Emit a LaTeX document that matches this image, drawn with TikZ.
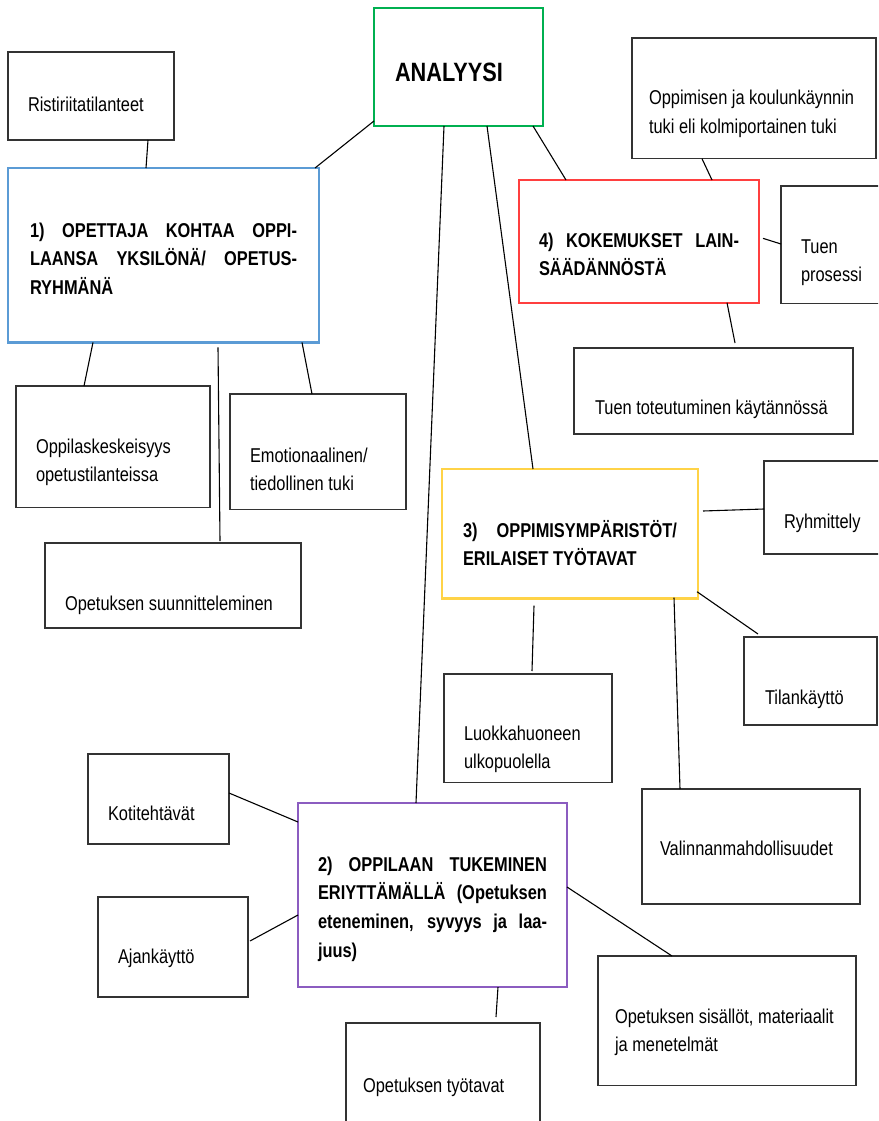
\documentclass[tikz,border=0pt]{standalone}
\usepackage{fontspec}
\setmainfont{Liberation Sans}[FakeStretch=0.82]
\usepackage{tikz}
\definecolor{anaInk}{HTML}{333333}
\definecolor{anaGreen}{HTML}{00B050}
\definecolor{anaBlue}{HTML}{5B9BD5}
\definecolor{anaRed}{HTML}{FF3F3F}
\definecolor{anaGold}{HTML}{FFD347}
\definecolor{anaPurple}{HTML}{8B5CC0}
\tikzset{
  anaLeaf/.style={draw=anaInk,line width=1.4pt},
  anaMain/.style={line width=2.6pt,font=\fontsize{20}{28.7}\selectfont\bfseries,align=justify},
  anaEdge/.style={draw=black,line width=1.1pt}
}

\begin{document}
\begin{tikzpicture}[
  x=1pt,y=-1pt,
  box/.style={rectangle,anchor=north west,inner ysep=0pt,outer sep=0pt,
              align=flush left,font=\fontsize{20}{28.7}\selectfont,text=black},
  pane/.style n args={5}{minimum width=#1pt,inner xsep=#2pt,text width=#3pt,
              execute at begin node={\noindent\vrule width0pt height#4pt depth0pt},
              execute at end node={\vrule width0pt height0pt depth#5pt}}]
\useasboundingbox (0,0) rectangle (878,1121);
\clip (0,0) rectangle (878,1121);
\fill[white] (0,0) rectangle (878,1121);
% centre and the four themes
\node[box,pane={169}{21}{127}{74}{44},draw=anaGreen,line width=2.8pt,
      font=\fontsize{26.5}{30}\selectfont\bfseries] (A) at (374,8) {ANALYYSI};
\node[box,anaMain,pane={311}{22}{267}{69}{48},draw=anaBlue] (P1) at (8,168)
  {1) OPETTAJA KOHTAA OPPI-\break LAANSA YKSILÖNÄ/ OPETUS-\break RYHMÄNÄ};
\node[box,anaMain,pane={269}{20}{229}{68}{30},draw=anaPurple,line width=2pt] (P2) at (298,803)
  {2) OPPILAAN TUKEMINEN\break ERIYTTÄMÄLLÄ (Opetuksen\break eteneminen, syvyys ja laa-\break juus)};
\node[box,anaMain,pane={256}{21}{214}{68}{33},draw=anaGold] (P3) at (442,469)
  {3) OPPIMISYMPÄRISTÖT/\break ERILAISET TYÖTAVAT};
\node[box,anaMain,pane={240}{20}{200}{67}{27},draw=anaRed,line width=2pt] (P4) at (519,180)
  {4) KOKEMUKSET LAIN-\break SÄÄDÄNNÖSTÄ};
% leaves
\node[box,anaLeaf,pane={166}{20}{126}{60}{28}] (Ri) at (8,52) {Ristiriitatilanteet};
\node[box,anaLeaf,pane={194}{20}{154}{67}{26}] (Ok) at (16,386) {Oppilaskeskeisyys\\opetustilanteissa};
\node[box,anaLeaf,pane={176}{20}{136}{68}{19}] (Em) at (230,394) {Emotionaalinen/\\tiedollinen tuki};
\node[box,anaLeaf,pane={256}{20}{216}{67}{18}] (Os) at (45,543) {Opetuksen suunnitteleminen};
\node[box,anaLeaf,pane={244}{17}{210}{67}{25}] (Ol) at (632,38) {Oppimisen ja koulunkäynnin\\tuki eli kolmiportainen tuki};
\node[box,anaLeaf,pane={109}{20}{69}{67}{22}] (Tp) at (781,186) {Tuen\\prosessi};
\node[box,anaLeaf,pane={279}{21}{237}{66}{20}] (Tt) at (574,348) {Tuen toteutuminen käytännössä};
\node[box,anaLeaf,pane={126}{20}{86}{67}{26}] (Ry) at (764,461) {Ryhmittely};
\node[box,anaLeaf,pane={133}{21}{91}{67}{21}] (Ti) at (744,637) {Tilankäyttö};
\node[box,anaLeaf,pane={168}{20}{128}{66}{14}] (Lu) at (444,674) {Luokkahuoneen\\ulkopuolella};
\node[box,anaLeaf,pane={218}{18}{182}{66}{49}] (Va) at (642,789) {Valinnanmahdollisuudet};
\node[box,anaLeaf,pane={141}{20}{101}{66}{24}] (Ko) at (88,754) {Kotitehtävät};
\node[box,anaLeaf,pane={150}{20}{110}{66}{34}] (Aj) at (98,897) {Ajankäyttö};
\node[box,anaLeaf,pane={258}{17}{224}{67}{34}] (Ss) at (598,956) {Opetuksen sisällöt, materiaalit\\ja menetelmät};
\node[box,anaLeaf,pane={194}{17}{160}{69}{50}] (Ot) at (346,1023) {Opetuksen työtavat};
% connectors
\draw[anaEdge] ([yshift=5pt]A.south west) -- ([xshift=-4pt]P1.north east);
\draw[anaEdge] ([xshift=70pt]A.south west) -- ([xshift=118pt]P2.north west);
\draw[anaEdge] ([xshift=113pt]A.south west) -- ([xshift=91pt]P3.north west);
\draw[anaEdge] ([xshift=-10pt]A.south east) -- ([xshift=47pt]P4.north west);
\draw[anaEdge] ([xshift=140pt]Ri.south west) -- ([xshift=138pt]P1.north west);
\draw[anaEdge] ([xshift=85pt]P1.south west) -- ([xshift=68pt]Ok.north west);
\draw[anaEdge] ([xshift=294pt]P1.south west) -- ([xshift=82pt]Em.north west);
\draw[anaEdge] ([xshift=210pt,yshift=-5pt]P1.south west) -- ([xshift=175pt,yshift=2pt]Os.north west);
\draw[anaEdge] ([xshift=70pt]Ol.south west) -- ([xshift=193pt]P4.north west);
\draw[anaEdge] ([xshift=4pt,yshift=3pt]P4.east) -- ([yshift=-58pt]Tp.north west);
\draw[anaEdge] ([xshift=208pt]P4.south west) -- ([xshift=161pt,yshift=5pt]Tt.north west);
\draw[anaEdge] ([xshift=5pt,yshift=-42pt]P3.north east) -- ([yshift=-48pt]Ry.north west);
\draw[anaEdge] ([xshift=-1pt,yshift=7pt]P3.south east) -- ([xshift=14pt,yshift=3pt]Ti.north west);
\draw[anaEdge] ([xshift=92pt,yshift=-7pt]P3.south west) -- ([xshift=88pt,yshift=3pt]Lu.north west);
\draw[anaEdge] ([xshift=232pt,yshift=1pt]P3.south west) -- ([xshift=38pt]Va.north west);
\draw[anaEdge] ([yshift=-39pt]Ko.north east) -- ([yshift=-19pt]P2.north west);
\draw[anaEdge] ([xshift=2pt,yshift=-44pt]Aj.north east) -- ([yshift=-112pt]P2.north west);
\draw[anaEdge] ([yshift=-84pt]P2.north east) -- ([xshift=74pt]Ss.north west);
\draw[anaEdge] ([xshift=200pt]P2.south west) -- ([xshift=150pt,yshift=6pt]Ot.north west);
\end{tikzpicture}
\end{document}
